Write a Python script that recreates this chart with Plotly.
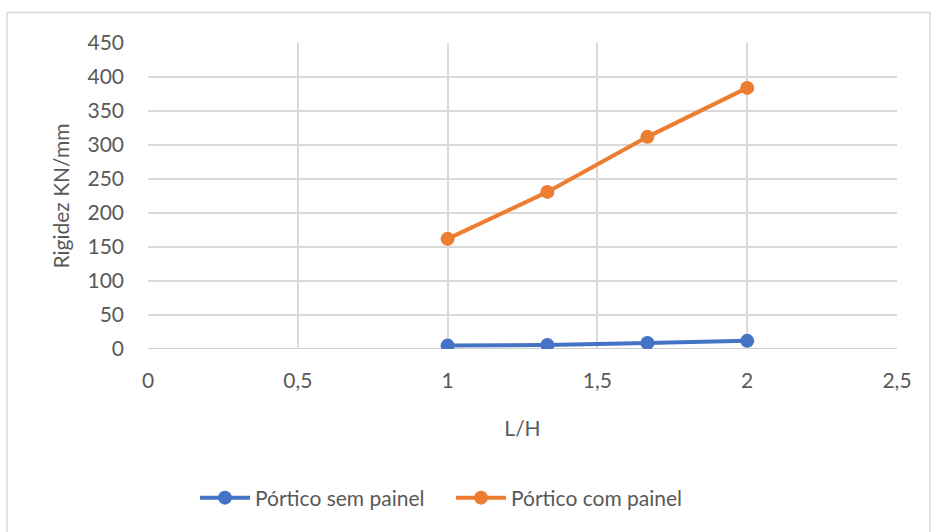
import plotly.graph_objects as go

# L/H ratios and stiffness (kN/mm) for each frame configuration
lh = [1.0, 1.333, 1.667, 2.0]
sem_painel = [5, 6, 9, 12]
com_painel = [162, 231, 312, 384]

x_ticks = [0, 0.5, 1, 1.5, 2, 2.5]
x_tick_text = ["0", "0,5", "1", "1,5", "2", "2,5"]
y_ticks = [0, 50, 100, 150, 200, 250, 300, 350, 400, 450]

FONT = "Lato"
SIZE = 21
TXT = "#595959"
GRID = "#D9D9D9"

fig = go.Figure()
fig.add_trace(go.Scatter(
    x=lh, y=sem_painel, name="Pórtico sem painel", mode="lines+markers",
    line=dict(color="#4472C4", width=4),
    marker=dict(color="#4472C4", size=14),
))
fig.add_trace(go.Scatter(
    x=lh, y=com_painel, name="Pórtico com painel", mode="lines+markers",
    line=dict(color="#ED7D31", width=4),
    marker=dict(color="#ED7D31", size=14),
))

fig.update_layout(
    width=931, height=532,
    margin=dict(l=148, r=34, t=43, b=183),
    paper_bgcolor="white", plot_bgcolor="white",
    font=dict(family=FONT, size=SIZE, color=TXT),
    showlegend=True,
    legend=dict(
        orientation="h", x=(195 - 148) / 749, xanchor="left", y=-0.487, yanchor="middle",
        font=dict(family=FONT, size=SIZE, color=TXT),
        itemwidth=50, entrywidth=191, traceorder="normal",
    ),
    xaxis=dict(
        range=[0, 2.5], tickvals=x_ticks, ticktext=x_tick_text,
        showgrid=True, gridcolor=GRID, gridwidth=1.5,
        zeroline=False, showline=False, ticks="",
        ticklabelstandoff=17,
        title=dict(text="L/H", standoff=30, font=dict(size=SIZE, color=TXT)),
        tickfont=dict(size=SIZE, color=TXT),
    ),
    yaxis=dict(
        range=[0, 450], tickvals=y_ticks,
        showgrid=True, gridcolor=GRID, gridwidth=1.5,
        zeroline=False, showline=False, ticks="",
        ticklabelstandoff=23,
        title=dict(text="Rigidez KN/mm", standoff=12, font=dict(size=SIZE, color=TXT)),
        tickfont=dict(size=SIZE, color=TXT),
    ),
    shapes=[
        # horizontal axis line
        dict(type="line", xref="paper", yref="y", x0=0, x1=1, y0=0, y1=0,
             line=dict(color="#BFBFBF", width=1.5), layer="below"),
        # chart area border
        dict(type="rect", xref="paper", yref="paper",
             x0=(7 - 148) / 749, x1=(930 - 148) / 749,
             y0=-1, y1=1 + (43.4 - 13) / 305.9,
             line=dict(color="#D9D9D9", width=1.5), layer="below"),
    ],
)

fig.write_html("out.html")
